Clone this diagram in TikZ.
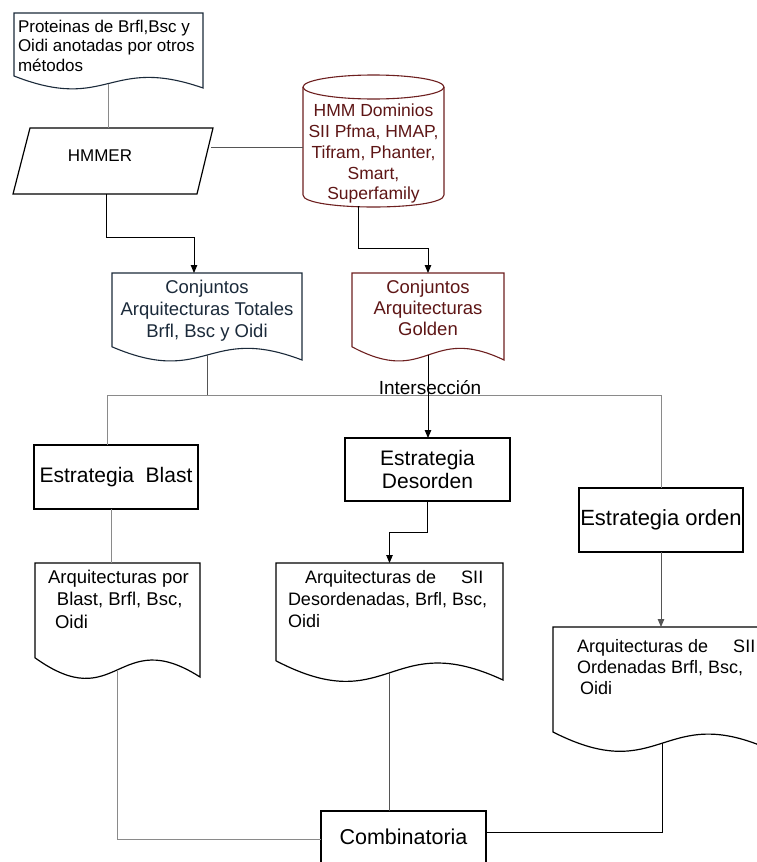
\documentclass[tikz,border=0pt]{standalone}
\usepackage{fontspec}
\setmainfont{Liberation Sans}
\usetikzlibrary{arrows.meta,calc}
\definecolor{navy}{HTML}{1B2A3A}
\definecolor{maroon}{HTML}{5E1616}
\definecolor{maroonline}{HTML}{6E2020}
\definecolor{lgray}{HTML}{8A8A8A}
\definecolor{mgray}{HTML}{555555}
\newcommand\docpath[3]{%
  \draw[#3] (#1.south east) -- (#1.north east) -- (#1.north west) -- ($(#1.south west)+(0,-12*#2)$)
    .. controls ($(#1.south)+(0,25*#2)$) and ($(#1.south)+(0,-33*#2)$) .. coordinate[pos=0.5] (#1-w) (#1.south east) -- cycle;}
\begin{document}
\begin{tikzpicture}[x=1pt,y=-1pt,
  docframe/.style={rectangle, inner sep=0pt, outer sep=0pt, anchor=north west},
  box/.style={draw, line width=1.2pt, rectangle, inner sep=0pt, outer sep=0pt, anchor=north west, align=center, font=\fontsize{21}{23}\selectfont},
  txt/.style={inner sep=0pt, outer sep=0pt, align=left, font=\fontsize{18}{22}\selectfont},
  conn/.style={line width=0.9pt},
  arr/.style={conn, -{Triangle[length=8pt,width=6.5pt]}}]
\useasboundingbox (0,0) rectangle (757,862);
\fill[white] (0,0) rectangle (757,862);
\clip (0,0) rectangle (757,862);

% document 1
\node[docframe, minimum width=189pt, minimum height=75pt] (d1) at (14,13) {};
\docpath{d1}{1}{draw=navy, line width=1.1pt}
\node[txt, anchor=north west, font=\fontsize{17}{19.5}\selectfont] (d1t) at (18,20) {Proteinas de Brfl,Bsc y\\Oidi anotadas por otros\\métodos};

% HMMER parallelogram
\draw[line width=1.2pt] (30,128) -- (213,128) -- (197,194) -- (13,194) -- cycle;
\node[inner sep=0pt, font=\fontsize{17}{20}\selectfont] (hmmer) at (100,156) {HMMER};
\coordinate (hm-t) at (109,128);
\coordinate (hm-b) at (106,194);
\coordinate (hm-r) at (211,147);

% cylinder
\draw[maroonline, line width=1.1pt] (303,87) -- (303,195) .. controls (303,211) and (444,211) .. (444,195) -- (444,87);
\draw[maroonline, line width=1.1pt] (373.5,87) ellipse [x radius=70.5pt, y radius=12pt];
\node[txt, align=center, text=maroon, anchor=north, font=\fontsize{17.5}{20.8}\selectfont] (cyl) at (373.5,104) {HMM Dominios\\SII Pfma, HMAP,\\Tifram, Phanter,\\Smart,\\Superfamily};
\coordinate (cyl-l) at (303,147);
\coordinate (cyl-b) at (358,206);

% Conjuntos documents
\node[docframe, minimum width=190pt, minimum height=87pt] (tot) at (112,273) {};
\docpath{tot}{1.1}{draw=navy, line width=1.1pt}
\node[txt, align=center, text=navy, anchor=north, font=\fontsize{18.5}{22}\selectfont] (tott) at (207,280) {Conjuntos\\Arquitecturas Totales\\Brfl, Bsc y Oidi};

\node[docframe, minimum width=152pt, minimum height=87pt] (gold) at (352,273) {};
\docpath{gold}{1.1}{draw=maroonline, line width=1.1pt}
\node[txt, align=center, text=maroon, anchor=north, font=\fontsize{18.5}{21}\selectfont] (goldt) at (428,280) {Conjuntos\\Arquitecturas\\Golden};

% strategies
\node[box, minimum width=164pt, minimum height=64pt] (blast) at (34,445) {Estrategia\hspace{0.55em}Blast};
\node[box, minimum width=165pt, minimum height=63pt] (desor) at (345,438) {Estrategia\\Desorden};
\node[box, minimum width=164pt, minimum height=64pt, font=\fontsize{22}{24}\selectfont] (orden) at (579,488) {Estrategia orden};
\node[inner sep=0pt, anchor=base, font=\fontsize{19}{21}\selectfont] (inter) at (430,394) {Intersección};

% result documents
\node[docframe, minimum width=165pt, minimum height=114pt] (bdoc) at (35,563) {};
\docpath{bdoc}{1.6}{draw, line width=1.2pt}
\node[txt, anchor=north west, font=\fontsize{18.5}{22.5}\selectfont] (bdoct) at (48,570) {Arquitecturas por\\\hspace*{9pt}Blast, Brfl, Bsc,\\\hspace*{7pt}Oidi};

\node[docframe, minimum width=227pt, minimum height=117pt] (ddoc) at (276,563) {};
\docpath{ddoc}{1.6}{draw, line width=1.2pt}
\node[txt, anchor=north west, font=\fontsize{18}{22}\selectfont] (ddoct) at (288,570) {\hspace*{17pt}Arquitecturas de\hspace*{1.4em}SII\\Desordenadas, Brfl, Bsc,\\Oidi};

\node[docframe, minimum width=218pt, minimum height=123pt] (odoc) at (553,627) {};
\docpath{odoc}{1.5}{draw, line width=1.2pt}
\node[txt, anchor=north west, font=\fontsize{18}{21}\selectfont] (odoct) at (577,639) {Arquitecturas de\hspace*{1.4em}SII\\Ordenadas Brfl, Bsc,\\\hspace*{3pt}Oidi};

\node[box, minimum width=165pt, minimum height=52pt, font=\fontsize{21.5}{24}\selectfont] (comb) at (321,811) {Combinatoria};

% connectors
\coordinate (j) at (207,395);
\draw[conn, lgray] (d1-w) -- (d1-w |- hm-t);
\draw[conn, mgray] (hm-r) -- (cyl-l);
\draw[arr] (hm-b) -- (106,237) -| ([xshift=-13pt]tot.north);
\draw[arr] (cyl-b) -- (358,248) -| (gold.north);
\draw[conn, mgray] (tot-w) -- (j);
\draw[conn, lgray] (j) -| (orden.north);
\draw[conn, lgray] (j) -| ([xshift=-9pt]blast.north);
\draw[arr] (gold-w) -- (gold-w |- desor.north);
\draw[conn, lgray] ([xshift=-5pt]blast.south) -- ([xshift=-5pt]blast.south |- bdoc.north);
\draw[arr] (desor.south) |- ($(ddoc.north)+(0,-31)$) -- (ddoc.north);
\draw[arr, mgray] (orden.south) -- (orden.south |- odoc.north);
\draw[conn, lgray] (bdoc-w) |- ([yshift=-2pt]comb.west);
\draw[conn, mgray] (ddoc-w) -- (ddoc-w |- comb.north);
\draw[conn] (odoc-w) |- ([yshift=5pt]comb.east);
\end{tikzpicture}
\end{document}
